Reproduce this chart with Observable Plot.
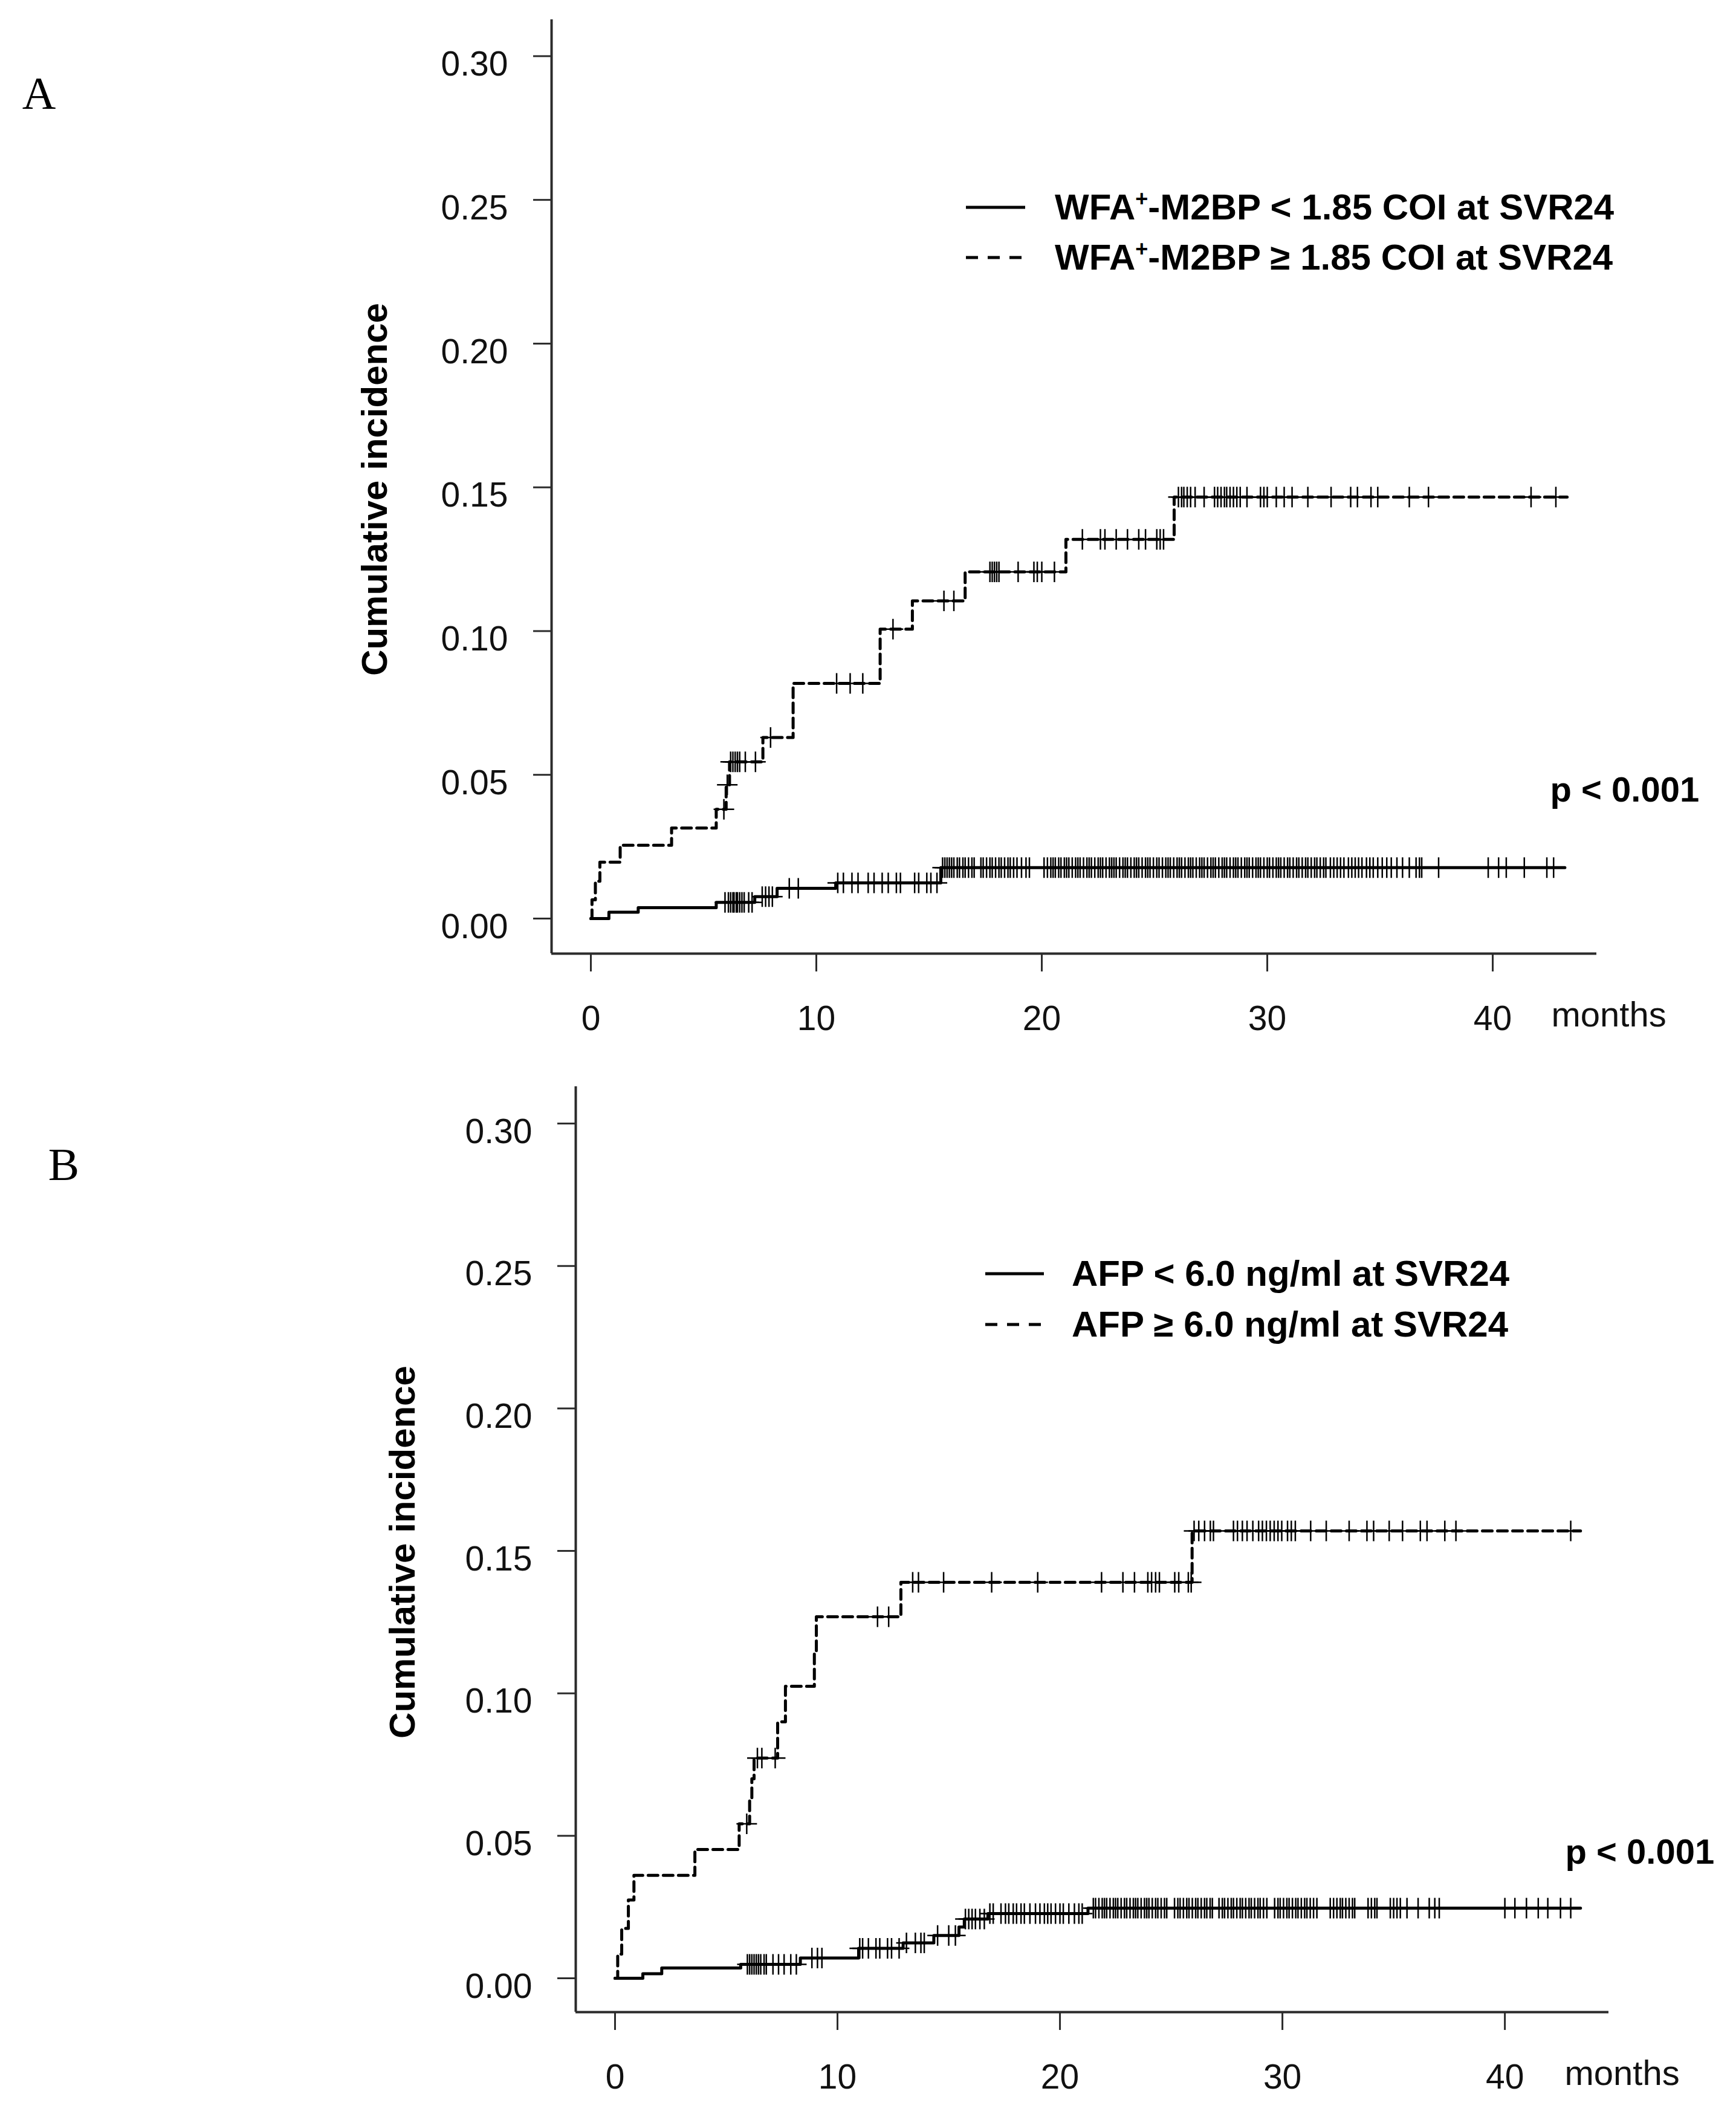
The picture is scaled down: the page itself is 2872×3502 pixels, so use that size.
<!DOCTYPE html>
<html>
<head>
<meta charset="utf-8">
<script src="https://cdn.jsdelivr.net/npm/d3@7"></script>
<script src="https://cdn.jsdelivr.net/npm/@observablehq/plot@0.6"></script>
<style>
  html, body { margin: 0; padding: 0; background: #fff; }
  body { width: 2872px; }
  .panel { position: relative; width: 2872px; overflow: hidden; }
  .panel svg { display: block; }
  .leg { position: absolute; height: 80px; display: flex; align-items: center; white-space: nowrap;
         font: bold 60px "Liberation Sans", Arial, Helvetica, sans-serif; color: #000; }
  .leg svg { display: block; flex: none; }
  .leg span.t { line-height: 1; }
  .sup { font-size: 36px; position: relative; top: -22px; }
</style>
</head>
<body>
<div id="panelA" class="panel"></div>
<div id="panelB" class="panel"></div>
<script>
// ---------- shared ticks ----------
const monthTicks = [0, 10, 20, 30, 40];
const incidenceTicks = [0, 0.05, 0.10, 0.15, 0.20, 0.25, 0.30];

// ---------- Panel A : WFA+-M2BP ----------
const aLowTime  = [0, 0.8, 2.1, 5.56, 7.27, 8.26, 10.86, 15.52, 43.2];
const aLowValue = [0, 0.0022, 0.0038, 0.0056, 0.0076, 0.0105, 0.0124, 0.0177, 0.0177];
const aLowCensor = [5.95, 6.1, 6.2, 6.3, 6.35, 6.45, 6.5, 6.6, 6.7, 6.8, 7.0, 7.15,
  7.6, 7.75, 7.9, 8.05, 8.8, 9.2,
  10.95, 11.2, 11.58, 11.85, 12.3, 12.56, 12.92, 13.19, 13.55, 13.73, 14.36, 14.54, 14.9, 15.08, 15.35,
  15.6, 15.7, 15.8, 15.9, 16.0, 16.1, 16.25, 16.35, 16.5, 16.6, 16.75, 16.9, 17.0, 17.3, 17.4, 17.55,
  17.7, 17.8, 17.95, 18.1, 18.2, 18.35, 18.5, 18.6, 18.75, 18.9, 19.1, 19.3, 19.45, 20.1, 20.25, 20.4,
  20.5, 20.6, 20.75, 20.85, 21.0, 21.1, 21.2, 21.35, 21.5, 21.6, 21.7, 21.85, 22.0, 22.1, 22.2, 22.35,
  22.5, 22.6, 22.7, 22.85, 23.0, 23.1, 23.2, 23.3, 23.45, 23.6, 23.7, 23.8, 23.95, 24.1, 24.2, 24.3,
  24.45, 24.6, 24.7, 24.8, 24.95, 25.1, 25.2, 25.35, 25.5, 25.6, 25.7, 25.85, 26.0, 26.1, 26.2, 26.35,
  26.5, 26.6, 26.7, 26.85, 27.0, 27.1, 27.2, 27.35, 27.5, 27.6, 27.7, 27.85, 28.0, 28.1, 28.2, 28.35,
  28.5, 28.6, 28.7, 28.85, 29.0, 29.1, 29.2, 29.35, 29.5, 29.6, 29.7, 29.85, 30.0, 30.1, 30.25, 30.4,
  30.5, 30.6, 30.75, 30.9, 31.0, 31.15, 31.3, 31.4, 31.55, 31.7, 31.8, 31.95, 32.1, 32.2, 32.35, 32.5,
  32.6, 32.8, 32.95, 33.1, 33.25, 33.4, 33.6, 33.75, 33.9, 34.05, 34.2, 34.4, 34.55, 34.7, 34.9, 35.1,
  35.3, 35.5, 35.75, 36.0, 36.3, 36.6, 36.75, 36.85, 37.6, 39.8, 40.26, 40.6, 41.4, 42.4, 42.7];

const aHighTime  = [0, 0.05, 0.2, 0.4, 1.3, 3.58, 5.56, 6.0, 6.15, 7.63, 8.97, 12.83, 14.26, 16.6, 21.07, 25.87, 43.3];
const aHighValue = [0, 0.0065, 0.013, 0.0196, 0.0255, 0.0315, 0.038, 0.0465, 0.0545, 0.063, 0.0818, 0.1007, 0.1105, 0.1206, 0.1319, 0.1466, 0.1466];
const aHighCensor = [5.9, 6.05, 6.2, 6.3, 6.4, 6.5, 6.6, 6.85, 7.3, 7.97, 10.9, 11.5, 12.06, 13.4, 15.66, 16.1,
  17.7, 17.8, 17.9, 18.0, 18.1, 18.95, 19.65, 19.8, 20.0, 20.56,
  21.8, 22.6, 22.8, 23.3, 23.8, 24.3, 24.6, 25.1, 25.25, 25.4,
  26.06, 26.2, 26.3, 26.45, 26.6, 26.8, 27.2, 27.66, 27.8, 27.95, 28.1, 28.2, 28.35, 28.5, 28.65, 28.8,
  29.1, 29.7, 29.85, 30.0, 30.4, 30.75, 31.1, 31.8, 32.83, 33.7, 34.0, 34.6, 34.9, 36.3, 37.15, 41.7, 42.8];

const aLegend = ["WFA⁺-M2BP < 1.85 COI at SVR24", "WFA⁺-M2BP ≥ 1.85 COI at SVR24"];

// ---------- Panel B : AFP ----------
const bLowTime  = [0, 1.25, 2.1, 5.65, 8.33, 10.95, 12.95, 14.33, 15.46, 15.7, 16.76, 21.26, 43.4];
const bLowValue = [0, 0.0016, 0.0036, 0.0049, 0.0071, 0.0105, 0.0124, 0.0150, 0.0180, 0.0208, 0.0227, 0.0246, 0.0246];
const bLowCensor = [5.95, 6.05, 6.15, 6.25, 6.35, 6.45, 6.55, 6.7, 6.8, 7.1, 7.35, 7.6, 7.9, 8.15,
  8.85, 9.1, 9.3,
  11.0, 11.13, 11.39, 11.73, 11.9, 12.25, 12.43, 12.77,
  13.1, 13.5, 13.75, 13.9, 14.5, 15.0, 15.3,
  15.75, 15.9, 16.05, 16.2, 16.4, 16.6,
  16.85, 17.0, 17.35, 17.55, 17.7, 17.9, 18.05, 18.25, 18.4, 18.65, 18.9, 19.1, 19.3, 19.45, 19.6, 19.8,
  20.0, 20.15, 20.4, 20.65, 20.85, 21.0,
  21.5, 21.6, 21.75, 21.9, 22.0, 22.1, 22.25, 22.4, 22.5, 22.6, 22.75, 22.9, 23.0, 23.15, 23.3, 23.4,
  23.5, 23.65, 23.8, 23.9, 24.0, 24.15, 24.3, 24.4, 24.55, 24.7, 24.8, 25.15, 25.3, 25.4, 25.55, 25.7,
  25.8, 25.95, 26.1, 26.2, 26.35, 26.5, 26.6, 26.75, 26.85, 27.15, 27.3, 27.4, 27.55, 27.7, 27.8, 27.95,
  28.1, 28.2, 28.35, 28.5, 28.6, 28.75, 28.9, 29.0, 29.15, 29.3, 29.65, 29.8, 29.9, 30.05, 30.2, 30.3,
  30.45, 30.6, 30.7, 30.85, 31.0, 31.1, 31.25, 31.4, 31.55, 32.15, 32.3, 32.45, 32.6, 32.7, 32.85, 33.0,
  33.15, 33.25, 33.85, 34.0, 34.15, 34.25, 34.85, 35.0, 35.15, 35.3, 35.6, 36.1, 36.6, 36.85, 37.05,
  40.0, 40.45, 40.97, 41.5, 41.93, 42.5, 42.96];

const bHighTime  = [0, 0.12, 0.3, 0.6, 0.85, 3.59, 5.58, 6.05, 6.15, 6.25, 7.31, 7.66, 8.96, 9.05, 12.85, 25.94, 43.4];
const bHighValue = [0, 0.0085, 0.0175, 0.0275, 0.0361, 0.0452, 0.0542, 0.0625, 0.070, 0.0773, 0.0900, 0.1025, 0.1145, 0.1269, 0.1390, 0.1570, 0.1570];
const bHighCensor = [5.92, 6.4, 6.6, 7.2, 11.8, 12.3, 13.38, 13.64, 14.77, 16.93, 19.0, 21.87, 22.83, 23.35,
  23.95, 24.12, 24.3, 24.47, 25.16, 25.34, 25.77, 25.9,
  26.03, 26.24, 26.5, 26.76, 26.9, 27.8, 27.98, 28.2, 28.41, 28.67, 28.93, 29.1, 29.28, 29.45, 29.63,
  29.8, 29.97, 30.23, 30.4, 30.58, 31.27, 31.97, 33.0, 33.8, 34.1, 34.8, 35.4, 36.2, 36.5, 37.3, 37.8, 42.96];

const bLegend = ["AFP < 6.0 ng/ml at SVR24", "AFP ≥ 6.0 ng/ml at SVR24"];

const pText = "p < 0.001";
const yLabel = "Cumulative incidence";
const xUnit = "months";

// ---------- helpers ----------
const FONT = '"Liberation Sans", Arial, Helvetica, sans-serif';
const steps = (T, V) => T.map((t, i) => ({t, v: V[i]}));
function levelAt(T, V, t) { let v = V[0]; for (let i = 0; i < T.length; i++) if (T[i] <= t) v = V[i]; return v; }
const censors = (C, T, V) => C.map(t => ({t, v: levelAt(T, V, t)}));
const plusSymbol = { draw(ctx) { ctx.moveTo(-17, 0); ctx.lineTo(17, 0); ctx.moveTo(0, -17); ctx.lineTo(0, 17); } };

function drawPanel(el, d, g) {
  const chart = Plot.plot({
    width: 2872, height: g.height,
    marginLeft: g.left, marginRight: g.right, marginTop: g.top, marginBottom: g.bottom,
    style: {fontFamily: FONT, color: "#111", background: "#fff", overflow: "visible"},
    x: {domain: g.xDomain},
    y: {domain: g.yDomain},
    marks: [
      Plot.ruleX([g.xDomain[0]], {stroke: "#2b2b2b", strokeWidth: 4}),
      Plot.ruleY([g.yDomain[0]], {stroke: "#2b2b2b", strokeWidth: 4}),
      // y tick marks only
      Plot.axisY({ticks: incidenceTicks, tickFormat: () => "", tickSize: 30, tickPadding: 0,
                  stroke: "#2b2b2b", strokeWidth: 3, label: null}),
      // y tick labels only (sit slightly below their ticks, as in the original)
      Plot.axisY({ticks: incidenceTicks, tickFormat: d3.format(".2f"), tickSize: 0, tickPadding: 72,
                  fontSize: 57, dy: 14, stroke: "none", label: null}),
      Plot.axisX({ticks: monthTicks, tickSize: 30, tickPadding: 56, fontSize: 57,
                  stroke: "#2b2b2b", strokeWidth: 3, label: null}),
      Plot.line(steps(d.lowT, d.lowV), {x: "t", y: "v", curve: "step-after", stroke: "#000", strokeWidth: 5}),
      Plot.line(steps(d.highT, d.highV), {x: "t", y: "v", curve: "step-after", stroke: "#000", strokeWidth: 5,
                  strokeDasharray: "16,9"}),
      Plot.dot(censors(d.lowC, d.lowT, d.lowV), {x: "t", y: "v", symbol: plusSymbol, fill: "none", stroke: "#000", strokeWidth: 2.5}),
      Plot.dot(censors(d.highC, d.highT, d.highV), {x: "t", y: "v", symbol: plusSymbol, fill: "none", stroke: "#000", strokeWidth: 2.5}),
      Plot.text([yLabel], {frameAnchor: "left", dx: g.yLabelDx, dy: g.yLabelDy, rotate: -90,
                  textAnchor: "middle", lineAnchor: "middle", fontSize: 60, fontWeight: "bold", fill: "#000"}),
      Plot.text([pText], {frameAnchor: "top-right", dx: g.pDx, dy: g.pDy, textAnchor: "start",
                  lineAnchor: "bottom", fontSize: 58, fontWeight: "bold", fill: "#000"}),
      Plot.text([xUnit], {frameAnchor: "bottom-right", dx: g.mDx, dy: 120, textAnchor: "start",
                  lineAnchor: "bottom", fontSize: 58, fill: "#111"}),
      Plot.text([g.letter], {frameAnchor: "top-left", dx: g.letterDx, dy: g.letterDy, textAnchor: "middle",
                  lineAnchor: "bottom", fontSize: 77, fontFamily: '"Liberation Serif", "Times New Roman", serif', fill: "#000"})
    ]
  });
  el.appendChild(chart);

  // legend
  d.legend.forEach((label, i) => {
    const row = document.createElement("div");
    row.className = "leg";
    row.style.left = g.legLeft + "px";
    row.style.top = (g.legY[i] - 40) + "px";
    const dash = i === 0 ? "" : 'stroke-dasharray="20,16"';
    const html = label.replace("⁺", '<span class="sup">+</span>');
    row.innerHTML = `<svg width="${g.legSample}" height="10"><line x1="0" x2="${g.legSample}" y1="5" y2="5" stroke="#000" stroke-width="5" ${dash}/></svg>` +
                    `<span class="t" style="margin-left:${g.legGap}px">${html}</span>`;
    el.appendChild(row);
  });
}

drawPanel(document.getElementById("panelA"),
  {lowT: aLowTime, lowV: aLowValue, lowC: aLowCensor, highT: aHighTime, highV: aHighValue, highC: aHighCensor, legend: aLegend},
  {height: 1750, left: 912, right: 231, top: 32, bottom: 173,
   xDomain: [-1.743, 44.61], yDomain: [-0.0122, 0.3127],
   yLabelDx: -292, yLabelDy: 4.5, pDx: -77, pDy: 1293, mDx: -75,
   letter: "A", letterDx: -848, letterDy: 147,
   legLeft: 1598, legY: [343, 426], legSample: 98, legGap: 49});

drawPanel(document.getElementById("panelB"),
  {lowT: bLowTime, lowV: bLowValue, lowC: bLowCensor, highT: bHighTime, highV: bHighValue, highC: bHighCensor, legend: bLegend},
  {height: 1752, left: 952, right: 211, top: 47, bottom: 174,
   xDomain: [-1.766, 44.67], yDomain: [-0.01188, 0.31296],
   yLabelDx: -286, yLabelDy: 4.5, pDx: -72, pDy: 1285, mDx: -73,
   letter: "B", letterDx: -847, letterDy: 154,
   legLeft: 1630, legY: [357, 441], legSample: 97, legGap: 46});
</script>
</body>
</html>
